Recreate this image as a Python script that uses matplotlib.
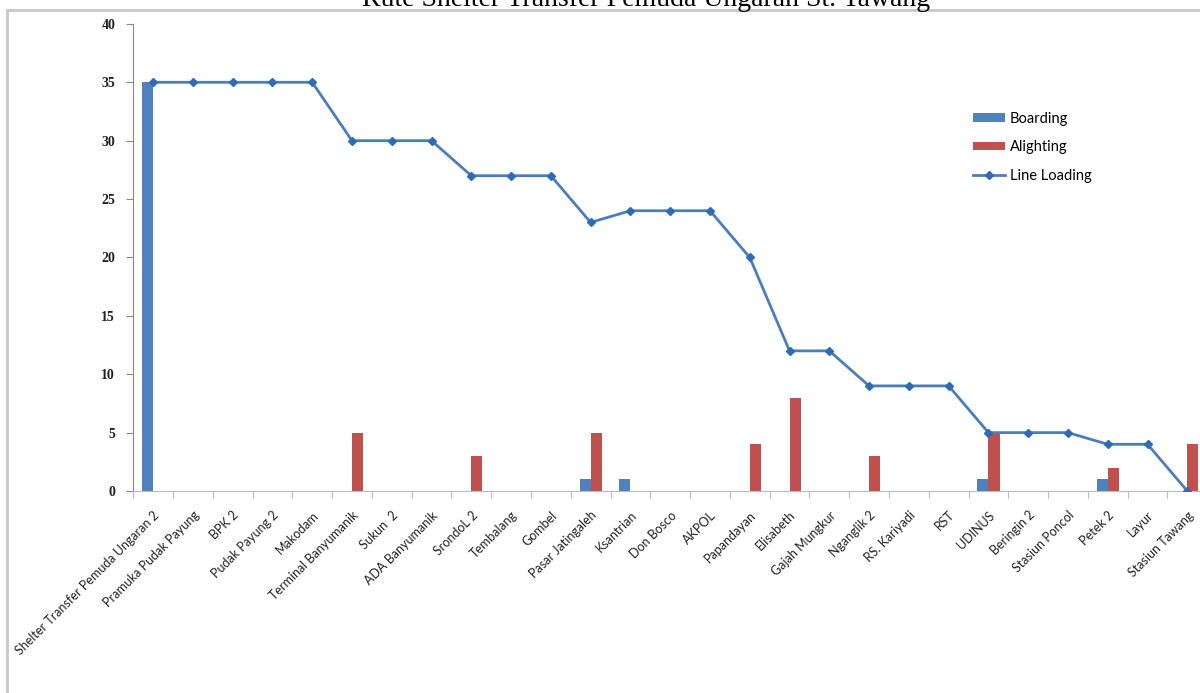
import numpy as np
import matplotlib
matplotlib.use('Agg')
import matplotlib.pyplot as plt
from matplotlib.lines import Line2D

stops = ['Shelter Transfer Pemuda Ungaran 2', 'Pramuka Pudak Payung', 'BPK 2',
         'Pudak Payung 2', 'Makodam', 'Terminal Banyumanik', 'Sukun  2',
         'ADA Banyumanik', 'SrondoL 2', 'Tembalang', 'Gombel', 'Pasar Jatingaleh',
         'Ksantrian', 'Don Bosco', 'AKPOL', 'Papandayan', 'Elisabeth',
         'Gajah Mungkur', 'Nganglik 2', 'RS. Kariyadi', 'RST', 'UDINUS',
         'Beringin 2', 'Stasiun Poncol', 'Petek 2', 'Layur', 'Stasiun Tawang']
boarding = [35, 0, 0, 0, 0, 0, 0, 0, 0, 0, 0, 1, 1, 0, 0, 0, 0, 0, 0, 0, 0, 1, 0, 0, 1, 0, 0]
alighting = [0, 0, 0, 0, 0, 5, 0, 0, 3, 0, 0, 5, 0, 0, 0, 4, 8, 0, 3, 0, 0, 5, 0, 0, 2, 0, 4]
line_loading = [35, 35, 35, 35, 35, 30, 30, 30, 27, 27, 27, 23, 24, 24, 24, 20,
                12, 12, 9, 9, 9, 5, 5, 5, 4, 4, 0]
title = 'Rute Shelter Transfer Pemuda Ungaran St. Tawang'

fig = plt.figure(figsize=(12, 6.93), dpi=100)
# axes deliberately runs a bit past the right edge, like the cropped original
ax = fig.add_axes([0.111, 0.2915, 0.895, 0.674])

x = np.arange(len(stops))
w = 0.28
b1 = ax.bar(x - w / 2, boarding, w, color='#4F81BD', label='Boarding', zorder=2)
b2 = ax.bar(x + w / 2, alighting, w, color='#C0504D', label='Alighting', zorder=2)
ln, = ax.plot(x, line_loading, color='#4A7EBB', lw=2, marker='D', ms=4.5,
              mfc='#2E6DB4', mec='#2E6DB4', label='Line Loading', zorder=3)

ax.set_xlim(-0.5, len(stops) - 0.5)
ax.set_ylim(0, 40)
ax.set_yticks(range(0, 41, 5))
for lbl in ax.get_yticklabels():
    lbl.set_fontfamily('Liberation Serif')
    lbl.set_fontweight('bold')
    lbl.set_fontsize(10)
    lbl.set_color('#222222')
ax.tick_params(axis='y', length=5, color='#888888', pad=8)

ax.set_xticks(np.arange(len(stops) + 1) - 0.5, minor=False)
ax.set_xticklabels([])
ax.set_xticks(x, minor=True)
ax.set_xticklabels(stops, minor=True, rotation=45, ha='right', va='top',
                   rotation_mode='anchor', fontsize=9, family='Lato', color='#222222')
ax.tick_params(axis='x', which='major', length=5, color='#BBBBBB')
ax.tick_params(axis='x', which='minor', length=0, pad=13)

for s in ['top', 'right']:
    ax.spines[s].set_visible(False)
ax.spines['left'].set_color('#888888')
ax.spines['bottom'].set_color('#BBBBBB')

ax.legend([b1, b2, ln], ['Boarding', 'Alighting', 'Line Loading'],
          loc='upper left', bbox_to_anchor=(0.77, 0.84), frameon=False,
          prop={'family': 'Lato', 'size': 10.5}, handlelength=2.2, handleheight=0.5,
          labelspacing=1.0, handletextpad=0.3)

# outer frame of the chart area
fig.add_artist(Line2D([0.006, 0.006], [0, 0.9856], color='#C8C8C8', lw=2))
fig.add_artist(Line2D([0.006, 1], [0.9856, 0.9856], color='#C8C8C8', lw=2))

fig.text(0.538, 1 - 6 / 693, title, ha='center', va='baseline',
         family='Liberation Serif', fontsize=20)

fig.savefig('out.png', dpi=100)
